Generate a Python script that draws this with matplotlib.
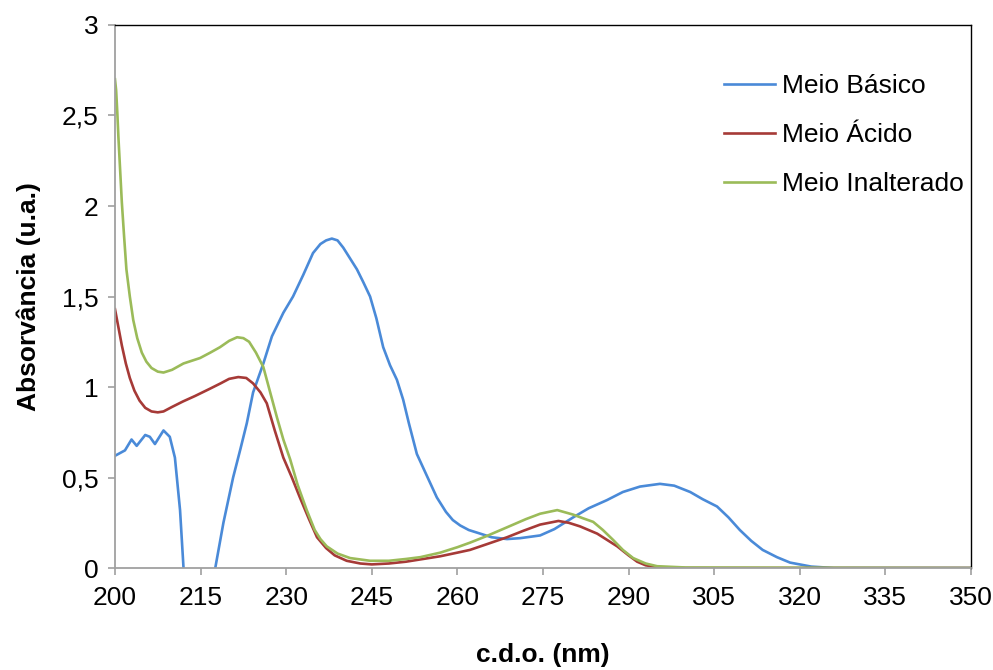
import numpy as np
import matplotlib.pyplot as plt

plt.rcParams['font.family'] = ['Liberation Sans', 'DejaVu Sans']

# absorbance spectra, wavelength in nm
nm_basico = [200, 201.75, 202.9, 203.8, 205.3, 206.1, 207, 208.5, 209.6, 210.5,
             211.4, 212, 212.4, 217.2, 217.6, 219, 220.7, 222, 223.1, 224.2, 226,
             227.5, 229.5, 231.2, 233, 234.7, 236, 237, 238, 239, 240, 241,
             242.4, 243.5, 244.7, 245.8, 247, 248.2, 249.4, 250.5, 251.5, 252.9,
             254.5, 256.4, 258, 259.2, 260.5, 262, 264, 266, 268.7, 271, 274.5,
             277, 280.3, 283, 286.2, 289, 292, 295.5, 298, 300.8, 303, 305.5,
             307.5, 309.5, 311.5, 313.5, 316, 318.3, 322, 326, 335, 350]
abs_basico = [0.62, 0.65, 0.71, 0.675, 0.735, 0.725, 0.685, 0.76, 0.725, 0.61,
              0.32, 0.005, -0.1, -0.1, 0.005, 0.25, 0.50, 0.66, 0.80, 0.97, 1.13,
              1.28, 1.41, 1.50, 1.62, 1.74, 1.79, 1.81, 1.82, 1.81, 1.77, 1.72,
              1.65, 1.58, 1.50, 1.38, 1.22, 1.12, 1.04, 0.93, 0.80, 0.63,
              0.52, 0.39, 0.31, 0.265, 0.235, 0.21, 0.19, 0.17, 0.16, 0.165, 0.18,
              0.215, 0.28, 0.33, 0.375, 0.42, 0.45, 0.465, 0.455, 0.42, 0.38, 0.34,
              0.28, 0.21, 0.15, 0.10, 0.06, 0.03, 0.008, 0.0, 0.0, 0.0]

nm_acido = [200, 200.6, 201.2, 201.9, 202.6, 203.4, 204.3, 205.3, 206.4, 207.5,
            208.5, 210, 211.9, 214, 216.6, 218.5, 220, 221.6, 223, 224.2, 225.5,
            226.6, 228, 229.5, 231, 232.4, 234, 235.4, 237, 238.5, 240.6, 243, 245,
            248, 251, 254, 257, 260, 262.2, 265, 268.7, 271.5, 274.5, 277.7, 279.5,
            281.5, 284.5, 286, 288, 290, 291.5, 293, 295, 300, 350]
abs_acido = [1.43, 1.33, 1.23, 1.13, 1.05, 0.98, 0.925, 0.885, 0.865, 0.86,
             0.865, 0.89, 0.92, 0.95, 0.99, 1.02, 1.045, 1.055, 1.05, 1.02, 0.97,
             0.91, 0.76, 0.61, 0.50, 0.39, 0.27, 0.17, 0.11, 0.07, 0.04, 0.025, 0.02,
             0.025, 0.035, 0.05, 0.065, 0.085, 0.10, 0.13, 0.17, 0.205, 0.24, 0.26, 0.25,
             0.23, 0.19, 0.16, 0.12, 0.07, 0.035, 0.015, 0.005, 0.0, 0.0]

nm_inalterado = [200, 200.2, 200.4, 200.6, 200.9, 201.2, 201.6, 202, 202.6, 203.2,
                 203.9, 204.7, 205.5, 206.4, 207.5, 208.5, 210, 212, 214.9, 216.7,
                 218.4, 220, 221.4, 222.5, 223.5, 224.7, 226, 227.2, 228.4, 229.5,
                 230.7, 232, 233.6, 235, 236, 237.1, 239, 241.2, 244.7, 248, 251,
                 253.5, 257, 260, 262.2, 265, 268.7, 272, 274.5, 277.5, 280.3, 282,
                 283.8, 285.5, 287.3, 289, 290.8, 293, 295, 300, 350]
abs_inalterado = [2.70, 2.64, 2.52, 2.38, 2.20, 2.02, 1.83, 1.65, 1.50, 1.37,
                  1.27, 1.19, 1.14, 1.105, 1.085, 1.08, 1.095, 1.13, 1.16, 1.19,
                  1.22, 1.255, 1.275, 1.27, 1.25, 1.19, 1.11, 0.97, 0.83, 0.71,
                  0.60, 0.46, 0.32, 0.21, 0.16, 0.12, 0.08, 0.055, 0.04, 0.04, 0.05,
                  0.06, 0.085, 0.115, 0.14, 0.175, 0.225, 0.27, 0.30, 0.32, 0.295, 0.275,
                  0.255, 0.21, 0.155, 0.10, 0.055, 0.025, 0.01, 0.003, 0.0]

fig = plt.figure(figsize=(9.93, 6.70), dpi=100)
ax = fig.add_axes([0.1158, 0.1522, 0.8620, 0.8105])

ax.plot(nm_basico, abs_basico, color='#4A8AD8', lw=1.9, label='Meio Básico')
ax.plot(nm_acido, abs_acido, color='#A63A37', lw=1.9, label='Meio Ácido')
ax.plot(nm_inalterado, abs_inalterado, color='#9BBB59', lw=1.9, label='Meio Inalterado')

ax.set_xlim(200, 350)
ax.set_ylim(0, 3)
ax.set_xticks(np.arange(200, 351, 15))
ax.set_yticks([0, 0.5, 1, 1.5, 2, 2.5, 3])
ax.set_yticklabels(['0', '0,5', '1', '1,5', '2', '2,5', '3'])

for side in ['left', 'bottom']:
    ax.spines[side].set_color('#A0A0A0')
    ax.spines[side].set_linewidth(1.3)
for side in ['top', 'right']:
    ax.spines[side].set_color('black')
    ax.spines[side].set_linewidth(1.0)

ax.tick_params(axis='both', direction='out', length=5, width=1.2, color='#A0A0A0',
               labelsize=19)
ax.tick_params(axis='x', pad=8)
ax.tick_params(axis='y', pad=7)

ax.set_xlabel('c.d.o. (nm)', fontsize=19, fontweight='bold', labelpad=24)
ax.set_ylabel('Absorvância (u.a.)', fontsize=19, fontweight='bold', labelpad=15)

ax.legend(loc='upper left', bbox_to_anchor=(0.711, 0.91), frameon=False,
          fontsize=19, handlelength=1.95, handletextpad=0.25, labelspacing=0.95,
          borderpad=0, borderaxespad=0)

fig.savefig('out.png', dpi=100)
